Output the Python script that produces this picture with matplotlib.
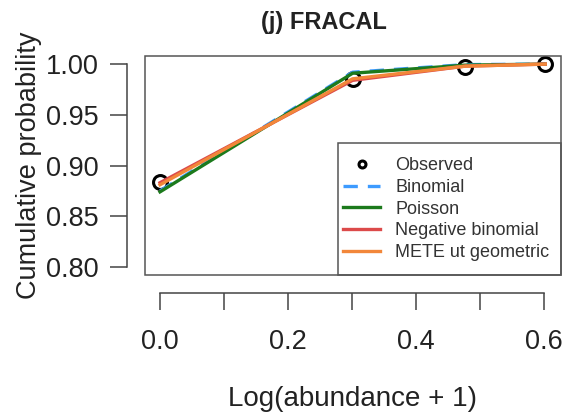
import numpy as np
import matplotlib.pyplot as plt
from matplotlib.patches import Rectangle

plt.rcParams['font.family'] = ['Liberation Sans', 'DejaVu Sans']

# abundance classes 1..4 on log10(abundance + 1)
abundance = [0, 1, 2, 3]
x = np.log10(np.array(abundance) + 1)

observed = [0.884, 0.985, 0.997, 1.000]
binomial = [0.875, 0.992, 0.9995, 1.000]
poisson = [0.874, 0.991, 0.999, 1.000]
negbin = [0.883, 0.984, 0.998, 1.000]
mete = [0.881, 0.9855, 0.998, 1.000]

fig = plt.figure(figsize=(5.66, 4.16), dpi=100)
W, H = 566, 416
ax = fig.add_axes([144.6 / W, (H - 275) / H, (560.6 - 144.6) / W, (275 - 56) / H])

ax.plot(x, observed, 'o', mfc='none', mec='black', ms=10, mew=2.2,
        label='Observed', zorder=2)
ax.plot(x, binomial, color='#3d9bff', lw=2.4, dashes=(4.3, 3),
        label='Binomial', zorder=3)
ax.plot(x, poisson, color='#1c7a1c', lw=2.4, label='Poisson', zorder=4)
ax.plot(x, negbin, color='#dc4a4a', lw=2.4, label='Negative binomial', zorder=5)
ax.plot(x, mete, color='#f2873a', lw=2.4, label='METE ut geometric', zorder=6)

ax.set_xlim(-0.02408, 0.62614)
ax.set_ylim(0.792, 1.008)

axcol = '#444444'
for s in ['top', 'right']:
    ax.spines[s].set_visible(False)
for s in ['left', 'bottom']:
    ax.spines[s].set_position(('outward', 13))
    ax.spines[s].set_color(axcol)
    ax.spines[s].set_linewidth(1.1)
ax.spines['left'].set_bounds(0.8, 1.0)
ax.spines['bottom'].set_bounds(0.0, 0.6)
ax.add_patch(Rectangle((0, 0), 1, 1, transform=ax.transAxes, fill=False,
                       ec='#555555', lw=1.1, clip_on=False, zorder=10))

ax.set_xticks([0.0, 0.2, 0.4, 0.6])
ax.set_xticklabels(['0.0', '0.2', '0.4', '0.6'])
ax.set_xticks([0.1, 0.3, 0.5], minor=True)
ax.set_yticks([0.80, 0.85, 0.90, 0.95, 1.00])
ax.set_yticklabels(['0.80', '0.85', '0.90', '0.95', '1.00'])
ax.tick_params(axis='both', which='both', length=12, width=1.1, color=axcol,
               labelsize=19.5, labelcolor='#222222')
ax.tick_params(axis='x', pad=14)
ax.tick_params(axis='y', pad=8)

ax.set_xlabel('Log(abundance + 1)', fontsize=20, color='#222222', labelpad=22)
ax.set_ylabel('Cumulative probability', fontsize=19.5, color='#222222', labelpad=3)
fig.text(324 / W, 1 - 22 / H, '(j) FRACAL', fontsize=17, fontweight='bold',
         ha='center', va='center', color='#222222')

# legend box drawn separately, legend content placed inside it
ax.add_patch(Rectangle((0.465, 0), 0.535, 0.603, transform=ax.transAxes,
                       fill=False, ec='#555555', lw=1.1, clip_on=False, zorder=10))
leg = ax.legend(loc='upper left', bbox_to_anchor=(0.477, 0.537),
                borderaxespad=0, borderpad=0, fontsize=13, frameon=False,
                handlelength=2.05, handletextpad=0.83, labelspacing=0.26,
                markerscale=0.5)
for t in leg.get_texts():
    t.set_color('#333333')

fig.savefig('out.png', dpi=100)
